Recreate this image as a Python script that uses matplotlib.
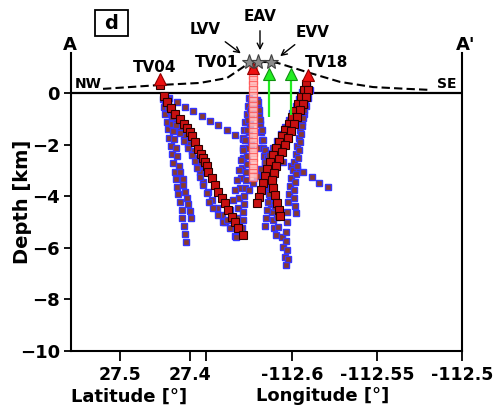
import matplotlib.pyplot as plt
from matplotlib.patches import Rectangle

plt.rcParams['font.family'] = ['DejaVu Sans']
plt.rcParams['font.weight'] = 'bold'

# x = position along profile A-A' (latitude part on the left, longitude part on the right)
tick_pos = [4.9, 11.9, 13.5, 22.1, 30.6, 39.1]
tick_labels = ['27.5', '27.4', '', '-112.6', '-112.55', '-112.5']
depth_ticks = [-10, -8, -6, -4, -2, 0]

# topography (dashed)
topo_x = [3.2, 5.9, 8.9, 12.9, 15.6, 17.2, 17.9, 18.7, 20.0, 20.7, 23.6, 26.9, 30.2, 33.6, 35.9]
topo_z = [0.16, 0.23, 0.31, 0.39, 0.58, 1.0, 1.2, 1.2, 1.2, 1.16, 0.81, 0.43, 0.23, 0.16, 0.12]

# stations
red_sta_x = [8.9, 18.2, 23.7]
red_sta_z = [0.54, 0.97, 0.70]
green_sta_x = [19.8, 22.0]
green_sta_z = [0.72, 0.72]
green_bottom = [-0.93, -0.85]
vent_x = [17.8, 18.7, 20.0]
vent_z = [1.2, 1.2, 1.2]

# blue hypocentre traces
l1_x = [9.8, 10.6, 11.4, 12.2, 13.1, 13.9, 14.7, 15.6, 16.4, 17.2, 18.0, 18.8, 19.6, 20.4, 21.2, 22.0, 22.6, 23.2, 24.1, 24.8, 25.7]
l1_z = [-0.19, -0.36, -0.53, -0.71, -0.90, -1.08, -1.25, -1.44, -1.62, -1.79, -1.97, -2.14, -2.31, -2.49, -2.66, -2.83, -2.95, -3.06, -3.26, -3.49, -3.64]
l2_x = [9.2, 9.3, 9.4, 9.6, 9.7, 9.8, 10.0, 10.1, 10.2, 10.4, 10.5, 10.6, 10.7, 10.9, 11.1, 11.1, 11.3, 11.4, 11.5]
l2_z = [-0.23, -0.54, -0.81, -1.12, -1.40, -1.74, -2.05, -2.36, -2.71, -3.06, -3.33, -3.64, -3.91, -4.22, -4.53, -4.84, -5.15, -5.46, -5.77]
l3_x = [9.6, 9.7, 9.9, 10.1, 10.1, 10.2, 10.3, 10.5, 10.6, 10.8, 10.9, 11.2, 11.2, 11.4, 11.6, 11.7, 11.9, 12.0]
l3_z = [-0.23, -0.43, -0.70, -0.97, -1.20, -1.47, -1.78, -2.13, -2.44, -2.83, -3.06, -3.33, -3.57, -3.84, -4.07, -4.30, -4.57, -4.84]
b1_x = [9.4, 9.7, 10.1, 10.5, 10.9, 11.3, 11.7, 12.1, 12.5, 12.8, 12.9, 13.2, 13.7, 14.1, 14.6, 15.1, 15.4, 15.9, 16.4]
b1_z = [-0.16, -0.43, -0.74, -1.05, -1.36, -1.67, -1.98, -2.25, -2.52, -2.79, -3.06, -3.45, -3.84, -4.15, -4.46, -4.73, -5.00, -5.23, -5.54]
b2_x = [9.4, 9.7, 10.1, 10.5, 10.9, 11.3, 11.7, 12.1, 12.4, 12.6, 12.9, 13.2, 13.6, 13.8, 14.2, 14.7, 15.2]
b2_z = [-0.27, -0.58, -0.93, -1.24, -1.55, -1.86, -2.13, -2.40, -2.64, -2.91, -3.26, -3.57, -3.88, -4.22, -4.46, -4.73, -5.00]
e1_x = [17.8, 17.7, 17.6, 17.4, 17.3, 17.2, 17.2, 17.2, 17.1, 17.0, 16.9, 16.8, 16.7, 16.6, 16.6, 16.5]
e1_z = [-0.19, -0.50, -0.81, -1.12, -1.43, -1.74, -2.13, -2.52, -2.91, -3.29, -3.68, -4.07, -4.46, -4.84, -5.23, -5.58]
e2_x = [18.1, 18.0, 18.0, 17.9, 17.8, 17.8, 17.7, 17.6, 17.6, 17.5, 17.5, 17.4, 17.3, 17.3, 17.2, 17.2, 17.1]
e2_z = [-0.27, -0.58, -0.89, -1.20, -1.51, -1.82, -2.13, -2.44, -2.75, -3.06, -3.37, -3.68, -3.99, -4.30, -4.61, -4.92, -5.23]
e3_x = [18.0, 17.9, 17.7, 17.6, 17.4, 17.2, 17.0, 16.8, 16.6, 16.4, 16.2, 15.9, 15.6]
e3_z = [-0.27, -0.66, -1.05, -1.43, -1.82, -2.21, -2.60, -2.98, -3.37, -3.76, -4.15, -4.53, -4.92]
e4_x = [18.6, 18.7, 18.8, 18.9, 19.0, 19.1, 19.2, 19.3, 19.4, 19.6, 19.7, 19.8, 19.9, 20.0, 20.1, 20.2, 20.3, 20.5]
e4_z = [-0.27, -0.58, -0.89, -1.20, -1.51, -1.82, -2.13, -2.44, -2.75, -3.06, -3.37, -3.68, -3.99, -4.30, -4.61, -4.92, -5.23, -5.50]
e5_x = [18.7, 18.8, 18.9, 19.1, 19.2, 19.4, 19.6, 19.7, 19.9, 20.1, 20.2, 20.4, 20.6, 20.7, 21.1, 21.2, 21.4, 21.5]
e5_z = [-0.35, -0.66, -1.05, -1.43, -1.82, -2.21, -2.52, -2.87, -3.26, -3.64, -4.03, -4.42, -4.81, -5.19, -5.58, -5.97, -6.36, -6.67]
t1_x = [23.1, 22.8, 22.5, 22.1, 21.8, 21.4, 21.0, 20.6, 20.2, 19.8, 19.4, 19.0, 18.6, 18.2, 17.8]
t1_z = [0.04, -0.23, -0.50, -0.78, -1.05, -1.32, -1.59, -1.86, -2.13, -2.40, -2.67, -2.95, -3.22, -3.49, -3.76]
t2_x = [23.9, 23.7, 23.5, 23.3, 23.1, 22.9, 22.8, 22.6, 22.5, 22.3, 22.2, 22.0, 21.9, 21.8, 21.7, 21.6, 21.6, 21.5, 21.5, 21.6, 21.7]
t2_z = [0.12, -0.19, -0.50, -0.81, -1.12, -1.43, -1.74, -2.05, -2.36, -2.67, -2.98, -3.29, -3.60, -3.91, -4.22, -4.61, -5.00, -5.39, -5.74, -6.09, -6.43]
t3_x = [23.6, 23.5, 23.4, 23.3, 23.2, 23.1, 23.0, 22.9, 22.8, 22.7, 22.6, 22.5, 22.4, 22.3, 22.3, 22.4, 22.5]
t3_z = [0.27, -0.04, -0.35, -0.66, -0.97, -1.28, -1.59, -1.90, -2.21, -2.52, -2.83, -3.14, -3.45, -3.76, -4.07, -4.38, -4.65]
t4_x = [23.3, 23.0, 22.7, 22.4, 22.1, 21.8, 21.5, 21.2, 20.9, 20.6, 20.4, 20.2, 20.0, 19.8, 19.7, 19.6, 19.5, 19.4]
t4_z = [0.12, -0.19, -0.50, -0.81, -1.12, -1.43, -1.74, -2.05, -2.36, -2.67, -2.98, -3.29, -3.60, -3.91, -4.22, -4.53, -4.84, -5.15]

# red traces
r0_x = [8.9, 9.3, 9.6, 10.0, 10.4, 10.9, 11.3, 11.6, 11.9, 12.1, 12.4, 12.7, 13.0, 13.2, 13.4, 13.6, 13.7, 14.1, 14.4, 14.7, 15.1, 15.4, 15.7, 16.1, 16.4, 16.7, 17.2]
r0_z = [0.31, -0.12, -0.35, -0.58, -0.81, -1.01, -1.20, -1.36, -1.51, -1.67, -1.90, -2.17, -2.36, -2.52, -2.67, -2.83, -3.06, -3.29, -3.57, -3.84, -4.07, -4.26, -4.53, -4.81, -5.00, -5.23, -5.50]
r1_x = [23.5, 23.3, 23.0, 22.7, 22.4, 22.1, 21.8, 21.4, 21.1, 20.8, 20.5, 20.2, 19.9, 19.6, 19.4, 19.2, 19.0, 18.8, 18.6]
r1_z = [0.35, 0.12, -0.16, -0.43, -0.70, -0.93, -1.20, -1.43, -1.67, -1.90, -2.13, -2.40, -2.67, -2.95, -3.22, -3.49, -3.76, -4.03, -4.26]
r2_x = [23.7, 23.5, 23.2, 22.9, 22.6, 22.3, 22.0, 21.7, 21.4, 21.1, 20.8, 20.5, 20.3, 20.1, 20.2, 20.4, 20.6, 20.8, 20.9]
r2_z = [0.12, -0.16, -0.43, -0.66, -0.93, -1.20, -1.47, -1.74, -2.02, -2.29, -2.56, -2.83, -3.10, -3.37, -3.68, -3.95, -4.26, -4.53, -4.77]

# pink column below EAV
pink_x = 18.2
pink_z = [0.9, 0.7, 0.5, 0.3, 0.1, -0.1, -0.3, -0.5, -0.7, -0.9, -1.1, -1.3, -1.5, -1.7, -1.9, -2.1, -2.3, -2.5, -2.7, -2.9, -3.1, -3.25]

blue_paths = [(l1_x, l1_z), (l2_x, l2_z), (l3_x, l3_z), (b1_x, b1_z), (b2_x, b2_z),
              (e1_x, e1_z), (e2_x, e2_z), (e3_x, e3_z), (e4_x, e4_z), (e5_x, e5_z),
              (t1_x, t1_z), (t2_x, t2_z), (t3_x, t3_z), (t4_x, t4_z)]
red_paths = [(r0_x, r0_z), (r1_x, r1_z), (r2_x, r2_z)]

fig = plt.figure(figsize=(4.94, 4.09), dpi=100)
ax = fig.add_axes([71 / 494, 58 / 409, 391 / 494, 298 / 409])

for xs, zs in blue_paths:
    ax.plot(xs, zs, linestyle='none', marker='s', markersize=4.2, mew=1.0,
            mec='#3434ff', mfc='#8a3a2c', zorder=3)

ax.plot([pink_x] * len(pink_z), pink_z, linestyle='none', marker='s', markersize=5.5,
        mew=0.9, mec='#ff5050', mfc='#ffc0c0', alpha=0.8, zorder=4)

for xs, zs in red_paths:
    ax.plot(xs, zs, linestyle='none', marker='s', markersize=5.2, mew=0.8,
            mec='#2a0000', mfc='#c81010', zorder=5)

ax.axhline(0, color='black', lw=1.6, zorder=2)
ax.plot(topo_x, topo_z, color='black', linestyle='--', dashes=(4, 2), lw=1.5, zorder=2)

ax.vlines(green_sta_x, green_bottom, green_sta_z, color='#22ee22', lw=1.6, zorder=6)
ax.plot(green_sta_x, green_sta_z, linestyle='none', marker='^', markersize=9,
        mfc='#22ee22', mec='#109010', mew=0.8, zorder=7)
ax.plot(red_sta_x, red_sta_z, linestyle='none', marker='^', markersize=9,
        mfc='#ee1010', mec='#900000', mew=0.8, zorder=7)
ax.plot(vent_x, vent_z, linestyle='none', marker='*', markersize=11,
        mfc='#8c8c8c', mec='#404040', mew=0.8, zorder=8)

# labels
txt = dict(fontsize=11, fontweight='bold', ha='center', va='center')
ax.text(8.4, 0.97, 'TV04', **txt)
ax.text(14.6, 1.2, 'TV01', **txt)
ax.text(13.4, 2.48, 'LVV', **txt)
ax.text(18.9, 2.95, 'EAV', **txt)
ax.text(24.2, 2.36, 'EVV', **txt)
ax.text(25.6, 1.2, 'TV18', **txt)
ax.text(1.7, 0.35, 'NW', fontsize=10, fontweight='bold', ha='center', va='center')
ax.text(37.6, 0.35, 'SE', fontsize=10, fontweight='bold', ha='center', va='center')
ax.text(-0.1, 1.86, 'A', fontsize=13, fontweight='bold', ha='center', va='center')
ax.text(39.5, 1.86, "A'", fontsize=13, fontweight='bold', ha='center', va='center')

arrow = dict(arrowstyle='->', color='black', lw=1)
ax.annotate('', xy=(17.2, 1.47), xytext=(15.2, 2.05), arrowprops=arrow, annotation_clip=False)
ax.annotate('', xy=(18.9, 1.55), xytext=(18.9, 2.52), arrowprops=arrow, annotation_clip=False)
ax.annotate('', xy=(20.7, 1.36), xytext=(22.6, 1.94), arrowprops=arrow, annotation_clip=False)

# panel letter
ax.add_patch(Rectangle((2.4, 2.21), 3.3, 1.01, fill=False, ec='black', lw=1.3, clip_on=False))
ax.text(4.05, 2.71, 'd', fontsize=14, fontweight='bold', ha='center', va='center')

ax.set_xlim(0, 39.1)
ax.set_ylim(-10, 1.55)
ax.spines['top'].set_visible(False)
for s in ['left', 'right', 'bottom']:
    ax.spines[s].set_linewidth(1.5)

ax.set_xticks(tick_pos)
ax.set_xticklabels(tick_labels)
ax.set_yticks(depth_ticks)
ax.tick_params(axis='x', length=7, width=1.3, pad=4, labelsize=12.5)
ax.tick_params(axis='y', length=5, width=1.3, pad=3, labelsize=13)
for lab in ax.get_xticklabels() + ax.get_yticklabels():
    lab.set_fontweight('bold')

ax.set_ylabel('Depth [km]', fontsize=14, fontweight='bold')
ax.yaxis.set_label_coords(-0.10, 0.5)
ax.text(5.8, -0.152, 'Latitude [°]', transform=ax.get_xaxis_transform(),
        fontsize=13, fontweight='bold', ha='center', va='center')
ax.text(25.2, -0.152, 'Longitude [°]', transform=ax.get_xaxis_transform(),
        fontsize=13, fontweight='bold', ha='center', va='center')

fig.savefig('out.png', dpi=100)
